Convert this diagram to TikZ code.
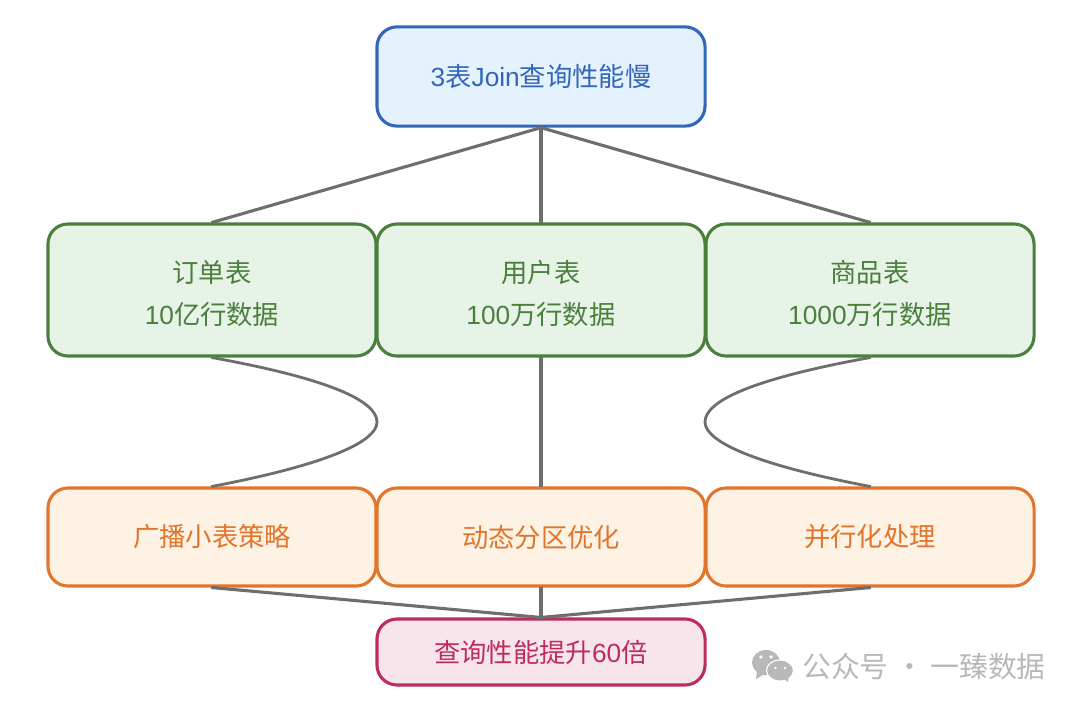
\documentclass[tikz,border=0pt]{standalone}
\usepackage{fontspec}
\setmainfont{Noto Sans CJK SC}
\newfontfamily\latinfont{Liberation Sans}
\usetikzlibrary{positioning}
\definecolor{blueline}{HTML}{3366BB}
\definecolor{bluefill}{HTML}{E3F2FD}
\definecolor{greenline}{HTML}{4A7F3C}
\definecolor{greenfill}{HTML}{E8F3E8}
\definecolor{orangeline}{HTML}{E2752C}
\definecolor{orangefill}{HTML}{FDF2E3}
\definecolor{pinkline}{HTML}{BE2C5C}
\definecolor{pinkfill}{HTML}{F8E5EC}
\definecolor{linkgray}{HTML}{6E6E6E}
\definecolor{markgray}{HTML}{B8B8B8}
\newcommand{\lowerline}{\rule{0pt}{21pt}}
\tikzset{
	box/.style={draw, rounded corners=0.5cm, line width=2.2pt, minimum width=8.2cm, align=center, font=\fontsize{18.7}{29.5}\selectfont, inner sep=0pt},
	startbox/.style={box, draw=blueline, fill=bluefill, text=blueline, minimum height=2.48cm},
	tablebox/.style={box, draw=greenline, fill=greenfill, text=greenline, minimum height=3.3cm},
	planbox/.style={box, draw=orangeline, fill=orangefill, text=orangeline, minimum height=2.45cm},
	endbox/.style={box, draw=pinkline, fill=pinkfill, text=pinkline, minimum height=1.65cm},
	link/.style={draw=linkgray, line width=2.2pt, shorten >=-0.5pt, shorten <=-0.5pt},
	bubble/.style={fill=markgray, draw=white, line width=0.8pt}
}
\begin{document}
\begin{tikzpicture}[x=0.025cm,y=-0.025cm]
	\useasboundingbox (0,0) rectangle (1080,710);

	% Boxes
	\node[startbox] (slow) at (541,76.5) {{\latinfont 3}表{\latinfont Join}查询性能慢};

	\node[tablebox] (orders) at (212,290) {\lowerline 订单表\\{\latinfont 10}亿行数据};
	\node[tablebox] (users) at (541,290) {\lowerline 用户表\\{\latinfont 100}万行数据};
	\node[tablebox] (goods) at (870,290) {\lowerline 商品表\\{\latinfont 1000}万行数据};

	\node[planbox] (broadcast) at (212,537) {广播小表策略};
	\node[planbox] (dynamic) at (541,537) {动态分区优化};
	\node[planbox] (parallel) at (870,537) {并行化处理};

	\node[endbox] (faster) at (541,652) {查询性能提升{\latinfont 60}倍};

	% Links
	\draw[link] (slow.south) -- (orders.north);
	\draw[link] (slow.south) -- (users.north);
	\draw[link] (slow.south) -- (goods.north);
	\draw[link] (users.south) -- (dynamic.north);
	\draw[link, line width=2pt] (orders.south) .. controls (325,378) and (377,400) .. (377,422)
		.. controls (377,442) and (325,465) .. (broadcast.north);
	\draw[link, line width=2pt] (goods.south) .. controls (757,378) and (705,400) .. (705,422)
		.. controls (705,442) and (757,465) .. (parallel.north);
	\draw[link] (broadcast.south) -- (faster.north);
	\draw[link] (dynamic.south) -- (faster.north);
	\draw[link] (parallel.south) -- (faster.north);

	% Watermark
	\fill[markgray] (766,662.5) ellipse (14 and 12.5);
	\fill[markgray] (757,671) -- (756,679) -- (766,673) -- cycle;
	\draw[bubble] (780,670.5) ellipse (13.5 and 10.5);
	\fill[markgray] (783,678) -- (788,682) -- (789,676) -- cycle;
	\fill[white] (761,657) circle (1.9) (771,657) circle (1.9) (775.5,668) circle (1.4) (785,668) circle (1.4);
	\node[text=markgray, font=\fontsize{20.5}{24}\selectfont, anchor=west, inner sep=0pt] (mark) at (802,666) {公众号 · 一臻数据};
\end{tikzpicture}
\end{document}
